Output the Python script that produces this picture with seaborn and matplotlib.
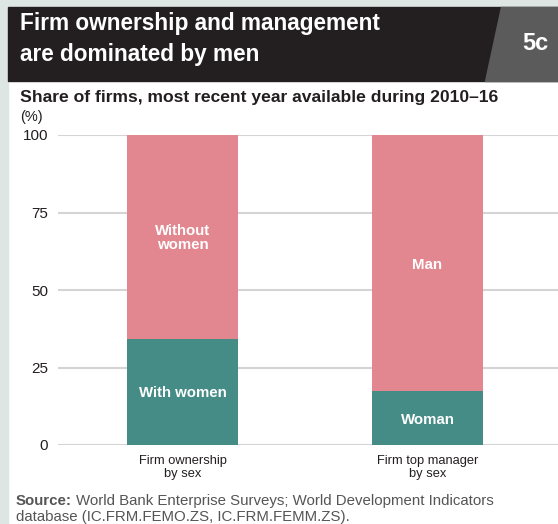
import matplotlib
matplotlib.use("Agg")
import matplotlib.pyplot as plt
from matplotlib.patches import Rectangle, Polygon
import seaborn as sns
import pandas as pd

# data
categories = ["Firm ownership\nby sex", "Firm top manager\nby sex"]
women_share = [34.2, 17.4]
men_share = [65.8, 82.6]
women_labels = ["With women", "Woman"]
men_labels = ["Without\nwomen", "Man"]
y_ticks = [0, 25, 50, 75, 100]

PINK = "#e2868f"
TEAL = "#458c87"
STRIP = "#dde6e3"

sns.set_theme(style="white")
plt.rcParams["font.family"] = ["Liberation Sans", "DejaVu Sans"]

W, H = 558, 524
fig = plt.figure(figsize=(W / 100, H / 100), dpi=100)
fig.patch.set_facecolor("white")


def fx(px):
    return px / W


def fy(py):
    return 1 - py / H


# background strips and header
fig.patches.append(Rectangle((0, 0), fx(8), 1, transform=fig.transFigure,
                             color=STRIP, zorder=0))
fig.patches.append(Rectangle((0, fy(7)), 1, fy(0) - fy(7), transform=fig.transFigure,
                             color=STRIP, zorder=0))
fig.patches.append(Rectangle((fx(8), fy(81)), 1 - fx(8), fy(7) - fy(81),
                             transform=fig.transFigure, color="#231f20", zorder=1))
fig.patches.append(Polygon([(fx(501), fy(7)), (fx(558), fy(7)), (fx(558), fy(81)),
                            (fx(485), fy(81))], closed=True,
                           transform=fig.transFigure, color="#5b5b5b", zorder=2))

fig.text(fx(20), fy(30), "Firm ownership and management", color="white",
         fontsize=16.3, fontweight="bold", va="baseline", ha="left")
fig.text(fx(20), fy(61), "are dominated by men", color="white",
         fontsize=16.3, fontweight="bold", va="baseline", ha="left")
fig.text(fx(535), fy(44), "5c", color="white", fontsize=17,
         fontweight="bold", va="center", ha="center")

fig.text(fx(20), fy(102), "Share of firms, most recent year available during 2010\u201316",
         color="#231f20", fontsize=12.6, fontweight="bold", va="baseline")
fig.text(fx(20), fy(117), "(%)", color="#231f20", fontsize=10.5, va="center")

# chart
df = pd.DataFrame({"cat": categories, "women": women_share, "men": men_share})
df["total"] = df["women"] + df["men"]

ax = fig.add_axes([fx(58), fy(445), 1 - fx(58), fy(135) - fy(445)])
sns.barplot(data=df, x="cat", y="total", color=PINK, width=0.453,
            saturation=1, linewidth=0, ax=ax, zorder=3)
sns.barplot(data=df, x="cat", y="women", color=TEAL, width=0.453,
            saturation=1, linewidth=0, ax=ax, zorder=3)

for i in range(len(categories)):
    ax.text(i, women_share[i] / 2, women_labels[i], color="white",
            fontsize=10.8, fontweight="bold", ha="center", va="center_baseline",
            zorder=5)
    ax.text(i, women_share[i] + men_share[i] / 2, men_labels[i], color="white",
            fontsize=10.8, fontweight="bold", ha="center", va="center_baseline",
            linespacing=1.0, zorder=5)

ax.set_xlim(-0.508, 1.533)
ax.set_ylim(0, 100)
ax.set_yticks(y_ticks)
ax.set_yticklabels([str(t) for t in y_ticks], fontsize=11, color="#231f20")
ax.yaxis.grid(True, color="#d4d4d4", linewidth=1.5, zorder=0)
ax.set_axisbelow(True)
ax.tick_params(axis="y", length=0, pad=7)
ax.tick_params(axis="x", length=0, pad=7)
ax.set_xticks(range(len(categories)))
ax.set_xticklabels(categories, fontsize=9.3, color="#231f20", linespacing=1.15)
ax.set_xlabel("")
ax.set_ylabel("")
for s in ax.spines.values():
    s.set_visible(False)
ax.set_facecolor("none")

# source note
src_bold = fig.text(fx(16), fy(505), "Source:", color="#555555", fontsize=10.8,
                    fontweight="bold", va="baseline")
fig.canvas.draw()
bb = src_bold.get_window_extent()
fig.text(bb.x1 / W + fx(4), fy(505),
         "World Bank Enterprise Surveys; World Development Indicators",
         color="#555555", fontsize=10.8, va="baseline")
fig.text(fx(16), fy(521), "database (IC.FRM.FEMO.ZS, IC.FRM.FEMM.ZS).",
         color="#555555", fontsize=10.8, va="baseline")

fig.savefig("out.png", dpi=100)
